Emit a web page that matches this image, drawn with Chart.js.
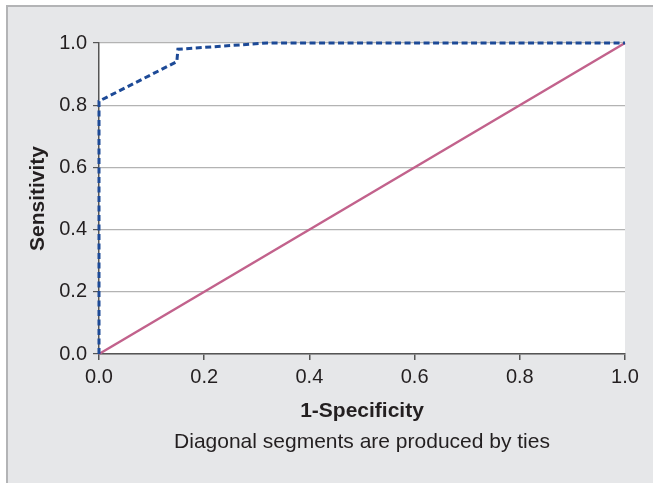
<!DOCTYPE html>
<html>
<head>
<meta charset="utf-8">
<script src="https://cdn.jsdelivr.net/npm/chart.js@4/dist/chart.umd.min.js"></script>
<style>
  html, body { margin: 0; padding: 0; background: #ffffff; }
  #frame { position: absolute; left: 6px; top: 5px; width: 647px; height: 478px;
           background: #e6e7e9; border-left: 2px solid #b3b4b6; border-top: 2px solid #b3b4b6; box-sizing: border-box; }
  #c { position: absolute; left: 0; top: 0; }
</style>
</head>
<body>
<div id="frame"></div>
<canvas id="c" width="653" height="483"></canvas>
<script>
// Data
const rocFpr = [0, 0, 0.148, 0.150, 0.32, 1.0];
const rocTpr = [0, 0.813, 0.94, 0.980, 1.0, 1.0];
const diagFpr = [0, 1];
const diagTpr = [0, 1];
const xTicks = [0, 0.2, 0.4, 0.6, 0.8, 1.0];
const yTicks = [0, 0.2, 0.4, 0.6, 0.8, 1.0];
const xTitle = '1-Specificity';
const yTitle = 'Sensitivity';
const noteText = 'Diagonal segments are produced by ties';

const FONT = "'Liberation Sans', Arial, Helvetica, sans-serif";
const TEXT = '#231f20';

const whiteArea = {
  id: 'whiteArea',
  beforeDraw(chart) {
    const {ctx, chartArea: a} = chart;
    ctx.save();
    ctx.fillStyle = '#ffffff';
    ctx.fillRect(a.left, a.top, a.right - a.left, a.bottom - a.top);
    ctx.restore();
  }
};

new Chart(document.getElementById('c'), {
  type: 'scatter',
  data: {
    datasets: [
      {
        label: 'ROC',
        data: rocFpr.map((x, i) => ({x, y: rocTpr[i]})),
        showLine: true,
        borderColor: '#1d4a97',
        borderWidth: 3,
        borderDash: [6, 3.5],
        pointRadius: 0,
        tension: 0,
        fill: false,
        clip: false,
        order: 1
      },
      {
        label: 'Reference',
        data: diagFpr.map((x, i) => ({x, y: diagTpr[i]})),
        showLine: true,
        borderColor: '#c2628c',
        borderWidth: 2.5,
        pointRadius: 0,
        tension: 0,
        fill: false,
        clip: false,
        order: 2
      }
    ]
  },
  options: {
    responsive: false,
    animation: false,
    devicePixelRatio: 1,
    layout: { padding: { left: 0, top: 43, right: 28, bottom: 0 } },
    plugins: {
      legend: { display: false },
      tooltip: { enabled: false },
      title: { display: false }
    },
    scales: {
      x: {
        type: 'linear',
        position: 'bottom',
        weight: 0,
        min: 0, max: 1,
        afterBuildTicks(s) { s.ticks = xTicks.map(v => ({value: v})); },
        afterFit(s) { s.height = 70.4; },
        grid: { display: true, drawOnChartArea: false, drawTicks: true, tickLength: 6, tickColor: '#555555', lineWidth: 1.5 },
        border: { display: true, color: '#555555', width: 1.5 },
        ticks: { color: TEXT, font: { family: FONT, size: 20 }, padding: 5, maxRotation: 0,
                 callback: v => v.toFixed(1) },
        title: { display: true, text: xTitle, color: TEXT,
                 font: { family: FONT, size: 21, weight: 'bold' }, padding: { top: 0, bottom: 1 } }
      },
      note: {
        type: 'linear',
        position: 'bottom',
        weight: 1,
        min: 0, max: 1,
        afterFit(s) { s.height = 58.6; },
        grid: { display: false, drawTicks: false },
        border: { display: false },
        ticks: { display: false },
        title: { display: true, text: noteText, color: TEXT,
                 font: { family: FONT, size: 21, weight: 'normal' }, padding: { top: 0, bottom: 28.5 } }
      },
      y: {
        type: 'linear',
        min: 0, max: 1,
        afterBuildTicks(s) { s.ticks = yTicks.map(v => ({value: v})); },
        afterFit(s) { s.width = 99; },
        grid: { display: true, drawOnChartArea: true, drawTicks: true, tickLength: 6,
                color: '#b3b3b3', tickColor: '#555555', lineWidth: 1.2 },
        border: { display: true, color: '#555555', width: 1.5 },
        ticks: { color: TEXT, font: { family: FONT, size: 20 }, padding: 6,
                 callback: v => v.toFixed(1) },
        title: { display: true, text: yTitle, color: TEXT,
                 font: { family: FONT, size: 21, weight: 'bold' }, padding: { top: 25.4, bottom: 0 } }
      }
    }
  },
  plugins: [whiteArea]
});
</script>
</body>
</html>
